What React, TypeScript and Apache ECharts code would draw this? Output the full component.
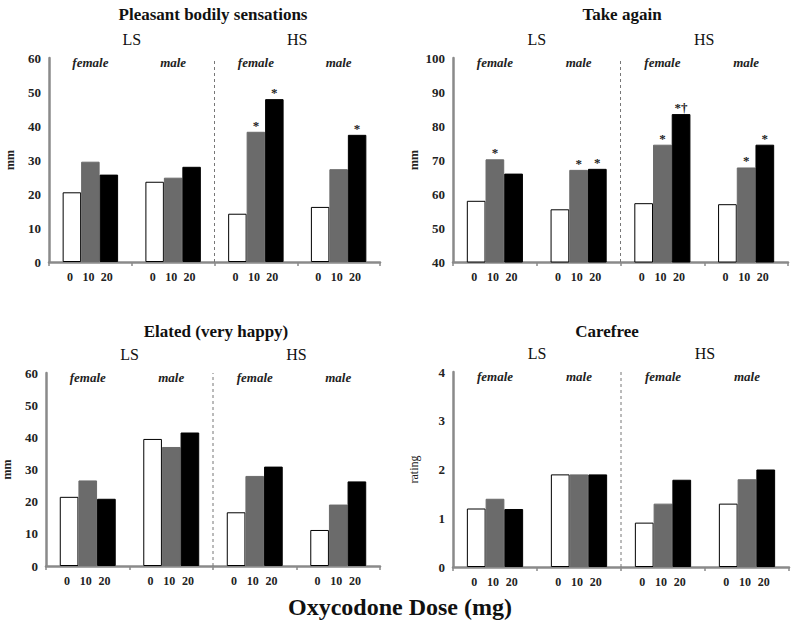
import React, { useEffect, useRef } from "react";
import * as echarts from "echarts";

// ---------- data ----------
const groups = ["LS female", "LS male", "HS female", "HS male"];
const sexLabels = ["female", "male", "female", "male"];
const cohortLabels = ["LS", "HS"];
const doseLabels = ["0", "10", "20"];
const xTitle = "Oxycodone Dose (mg)";

const pleasantTitle = "Pleasant bodily sensations";
const pleasant0 = [20.5, 23.6, 14.2, 16.2];
const pleasant10 = [29.5, 24.8, 38.3, 27.3];
const pleasant20 = [25.7, 28.0, 47.9, 37.4];
const pleasantMark0 = ["", "", "", ""];
const pleasantMark10 = ["", "", "*", ""];
const pleasantMark20 = ["", "", "*", "*"];
const pleasantScale = { min: 0, max: 60, step: 10, unit: "mm" };

const againTitle = "Take again";
const again0 = [58.0, 55.5, 57.3, 57.0];
const again10 = [70.2, 67.1, 74.5, 67.8];
const again20 = [66.0, 67.4, 83.5, 74.5];
const againMark0 = ["", "", "", ""];
const againMark10 = ["*", "*", "*", "*"];
const againMark20 = ["", "*", "*†", "*"];
const againScale = { min: 40, max: 100, step: 10, unit: "mm" };

const elatedTitle = "Elated (very happy)";
const elated0 = [21.5, 39.5, 16.7, 11.2];
const elated10 = [26.6, 37.0, 28.0, 19.1];
const elated20 = [20.9, 41.5, 30.9, 26.3];
const elatedMark0 = ["", "", "", ""];
const elatedMark10 = ["", "", "", ""];
const elatedMark20 = ["", "", "", ""];
const elatedScale = { min: 0, max: 60, step: 10, unit: "mm" };

const carefreeTitle = "Carefree";
const carefree0 = [1.2, 1.9, 0.91, 1.3];
const carefree10 = [1.4, 1.9, 1.3, 1.8];
const carefree20 = [1.19, 1.9, 1.79, 2.0];
const carefreeMark0 = ["", "", "", ""];
const carefreeMark10 = ["", "", "", ""];
const carefreeMark20 = ["", "", "", ""];
const carefreeScale = { min: 0, max: 4, step: 1, unit: "rating" };

const panels = [
  { title: pleasantTitle, values: [pleasant0, pleasant10, pleasant20], marks: [pleasantMark0, pleasantMark10, pleasantMark20], scale: pleasantScale },
  { title: againTitle, values: [again0, again10, again20], marks: [againMark0, againMark10, againMark20], scale: againScale },
  { title: elatedTitle, values: [elated0, elated10, elated20], marks: [elatedMark0, elatedMark10, elatedMark20], scale: elatedScale },
  { title: carefreeTitle, values: [carefree0, carefree10, carefree20], marks: [carefreeMark0, carefreeMark10, carefreeMark20], scale: carefreeScale },
];

// ---------- layout / style ----------
const layouts = [
  { left: 49, top: 58, width: 331, height: 204, titleX: 213, titleY: 14, nameBold: true },
  { left: 453, top: 58, width: 335, height: 204, titleX: 622, titleY: 14, nameBold: true },
  { left: 46, top: 373, width: 334, height: 193, titleX: 216, titleY: 331, nameBold: true },
  { left: 453, top: 372, width: 336, height: 195, titleX: 607, titleY: 331, nameBold: false },
];
const FONT = "'Liberation Serif', 'Times New Roman', serif";
const barColors = ["#ffffff", "#6b6b6b", "#000000"];
const barBorders = ["#000000", "#6b6b6b", "#000000"];
const axisGrey = "#8a8a8a";
const catGap = 0.33;

export default function App() {
  const ref = useRef<HTMLDivElement>(null);

  useEffect(() => {
    if (!ref.current) return;
    const chart = echarts.init(ref.current, undefined, { renderer: "svg" });

    const grid: any[] = [];
    const xAxis: any[] = [];
    const yAxis: any[] = [];
    const series: any[] = [];
    const graphic: any[] = [];

    panels.forEach((p, i) => {
      const L = layouts[i];
      const barW = (L.width / groups.length) * (1 - catGap) / 3;
      grid.push({ left: L.left, top: L.top, width: L.width, height: L.height });
      const base = i * 4;
      // bottom category axis with dose labels
      xAxis.push({
        type: "category",
        gridIndex: i,
        position: "bottom",
        data: groups,
        axisLine: { show: true, lineStyle: { color: axisGrey, width: 2.5 } },
        axisTick: { show: true, interval: 0, length: 4, lineStyle: { color: axisGrey, width: 1.5 } },
        axisLabel: {
          interval: 0,
          margin: 9,
          formatter: () => doseLabels.map((d) => `{d|${d}}`).join("") + "{p| }",
          rich: {
            d: { width: barW, align: "center", fontSize: 12, fontWeight: "bold", fontFamily: FONT, color: "#222" },
            p: { width: 4, fontSize: 12 },
          },
        },
      });
      // sex labels inside the top
      xAxis.push({
        type: "category",
        gridIndex: i,
        position: "top",
        data: sexLabels,
        axisLine: { show: false },
        axisTick: { show: false },
        axisLabel: {
          inside: true,
          interval: 0,
          margin: -2,
          fontSize: 13,
          fontStyle: "italic",
          fontWeight: "bold",
          fontFamily: FONT,
          color: "#222",
        },
      });
      // cohort labels above
      xAxis.push({
        type: "category",
        gridIndex: i,
        position: "top",
        data: cohortLabels,
        axisLine: { show: false },
        axisTick: { show: false },
        axisLabel: { interval: 0, margin: 11, fontSize: 16, fontFamily: FONT, color: "#111" },
      });
      // hidden value axis for the divider
      xAxis.push({ type: "value", gridIndex: i, min: 0, max: groups.length, show: false });

      yAxis.push({
        type: "value",
        gridIndex: i,
        min: p.scale.min,
        max: p.scale.max,
        interval: p.scale.step,
        name: p.scale.unit,
        nameLocation: "middle",
        nameGap: 33,
        nameTextStyle: { fontSize: 12, fontWeight: L.nameBold ? "bold" : "normal", fontFamily: FONT, color: "#222" },
        axisLine: { show: true, lineStyle: { color: axisGrey, width: 2.5 } },
        axisTick: { show: false },
        splitLine: { show: false },
        axisLabel: { margin: 8, fontSize: 13, fontWeight: "bold", fontFamily: FONT, color: "#222" },
      });

      p.values.forEach((vals, d) => {
        series.push({
          type: "bar",
          name: doseLabels[d],
          xAxisIndex: base,
          yAxisIndex: i,
          barGap: "0%",
          barCategoryGap: `${catGap * 100}%`,
          itemStyle: { color: barColors[d], borderColor: barBorders[d], borderWidth: 1 },
          data: vals.map((v, g) => ({
            value: v,
            label: {
              show: p.marks[d][g] !== "",
              position: "top",
              distance: 0,
              formatter: p.marks[d][g],
              fontSize: 13,
              fontWeight: "bold",
              fontFamily: FONT,
              color: "#222",
            },
          })),
        });
      });

      series.push({
        type: "line",
        xAxisIndex: base + 3,
        yAxisIndex: i,
        symbol: "none",
        silent: true,
        lineStyle: { color: "#777", width: 1, type: [3, 3] },
        data: [
          [groups.length / 2, p.scale.min],
          [groups.length / 2, p.scale.max],
        ],
      });

      graphic.push({
        type: "text",
        x: L.titleX,
        y: L.titleY,
        style: {
          text: p.title,
          fontSize: 17,
          fontWeight: "bold",
          fontFamily: FONT,
          fill: "#111",
          align: "center",
          verticalAlign: "middle",
        },
      });
    });

    graphic.push({
      type: "text",
      x: 400,
      y: 607,
      style: {
        text: xTitle,
        fontSize: 24,
        fontWeight: "bold",
        fontFamily: FONT,
        fill: "#111",
        align: "center",
        verticalAlign: "middle",
      },
    });

    chart.setOption({
      animation: false,
      backgroundColor: "#ffffff",
      grid,
      xAxis,
      yAxis,
      series,
      graphic,
    });

    return () => chart.dispose();
  }, []);

  return (
    <div
      ref={ref}
      style={{ position: "fixed", left: 0, top: 0, width: 800, height: 629 }}
    />
  );
}
